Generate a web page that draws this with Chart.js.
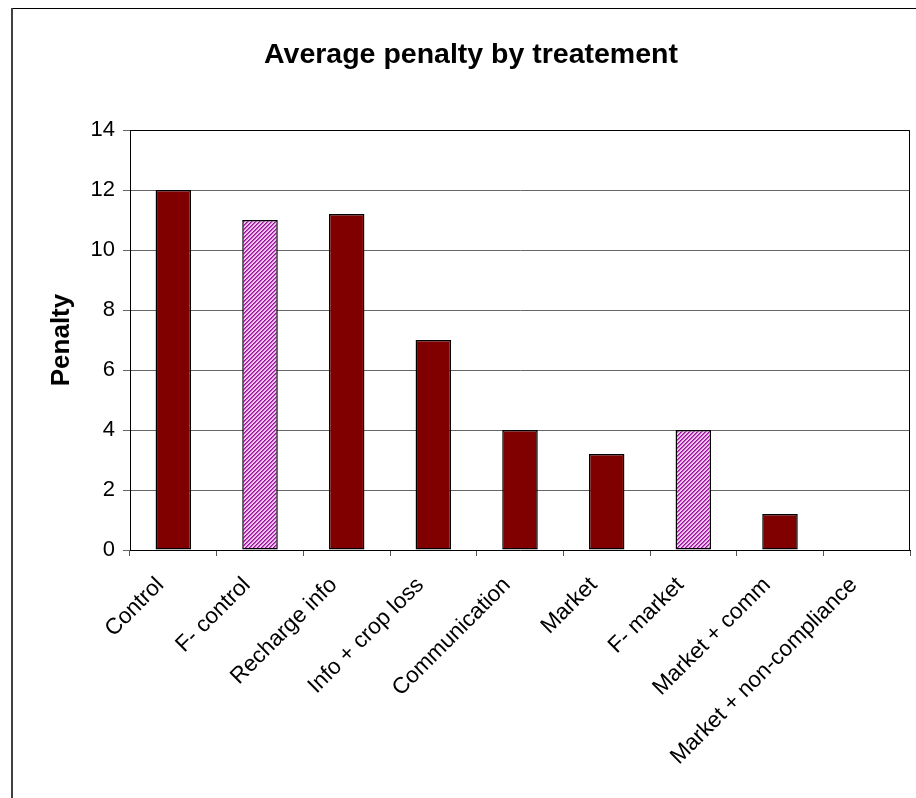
<!DOCTYPE html>
<html>
<head>
<meta charset="utf-8">
<script src="https://cdn.jsdelivr.net/npm/chart.js@4/dist/chart.umd.min.js"></script>
<style>
  html, body { margin: 0; padding: 0; background: #fff; }
  #wrap { width: 916px; height: 798px; }
</style>
</head>
<body>
<div id="wrap"><canvas id="c" width="916" height="798"></canvas></div>
<script>
// Treatments and their average penalty
const categories = [
  'Control', 'F- control', 'Recharge info', 'Info + crop loss',
  'Communication', 'Market', 'F- market', 'Market + comm', 'Market + non-compliance'
];
const penalty = [12, 11, 11.2, 7, 4, 3.2, 4, 1.2, 0];
// Treatments shown with a hatched fill
const hatchedCategories = ['F- control', 'F- market'];
const yTicks = [0, 2, 4, 6, 8, 10, 12, 14];

const FONT = 'Arial, "Liberation Sans", sans-serif';

function makeHatch() {
  const t = document.createElement('canvas');
  t.width = 4; t.height = 4;
  const g = t.getContext('2d');
  g.fillStyle = '#f0c4f0';
  g.fillRect(0, 0, 4, 4);
  for (let y = 0; y < 4; y++) {
    for (let x = 0; x < 4; x++) {
      const k = (x + y) % 4;
      if (k === 0) { g.fillStyle = '#901890'; g.fillRect(x, y, 1, 1); }
      if (k === 1) { g.fillStyle = '#c848c8'; g.fillRect(x, y, 1, 1); }
    }
  }
  return document.getElementById('c').getContext('2d').createPattern(t, 'repeat');
}
const hatch = makeHatch();
const fills = categories.map(c => hatchedCategories.includes(c) ? hatch : '#800000');

// White background and the outer chart frame
const framePlugin = {
  id: 'frame',
  beforeDraw(chart) {
    const ctx = chart.ctx;
    ctx.save();
    ctx.fillStyle = '#fff';
    ctx.fillRect(0, 0, chart.width, chart.height);
    ctx.restore();
  },
  afterDraw(chart) {
    const ctx = chart.ctx;
    ctx.save();
    ctx.fillStyle = '#000';
    ctx.fillRect(11, 8, chart.width - 11, 1);
    ctx.fillStyle = '#404040';
    ctx.fillRect(11, 8, 2, chart.height - 8);
    // plot area outline on top and right
    const a = chart.chartArea;
    ctx.strokeStyle = '#000';
    ctx.lineWidth = 1;
    ctx.beginPath();
    ctx.moveTo(Math.round(a.left) + 0.5, Math.round(a.top) + 0.5);
    ctx.lineTo(Math.round(a.right) - 0.5, Math.round(a.top) + 0.5);
    ctx.lineTo(Math.round(a.right) - 0.5, Math.round(a.bottom) + 0.5);
    ctx.stroke();
    ctx.restore();
  }
};

new Chart(document.getElementById('c'), {
  type: 'bar',
  data: {
    labels: categories,
    datasets: [{
      data: penalty,
      backgroundColor: fills,
      borderColor: '#000',
      borderWidth: 1.5,
      borderSkipped: false,
      categoryPercentage: 1,
      barPercentage: 0.41
    }]
  },
  options: {
    responsive: false,
    animation: false,
    events: [],
    layout: { padding: { left: 32, right: 6, top: 0, bottom: 0 } },
    plugins: {
      legend: { display: false },
      tooltip: { enabled: false },
      title: {
        display: true,
        text: 'Average penalty by treatement',
        color: '#000',
        font: { family: FONT, size: 28.5, weight: 'bold', lineHeight: 1.2 },
        padding: { top: 38, bottom: 57.8 }
      }
    },
    scales: {
      x: {
        offset: true,
        grid: {
          offset: true,
          drawOnChartArea: false,
          drawTicks: true,
          tickLength: 6,
          color: '#555'
        },
        border: { color: '#000', width: 1 },
        ticks: {
          autoSkip: false,
          minRotation: 45,
          maxRotation: 45,
          padding: 16,
          labelOffset: -13,
          color: '#000',
          font: { family: FONT, size: 22.5 }
        },
        afterFit(scale) { scale.height = 248; }
      },
      y: {
        min: 0,
        max: 14,
        afterBuildTicks(scale) { scale.ticks = yTicks.map(v => ({ value: v })); },
        grid: {
          color: '#666',
          lineWidth: 1,
          tickLength: 7,
          tickColor: '#666'
        },
        border: { color: '#000', width: 1 },
        ticks: {
          padding: 8,
          color: '#000',
          font: { family: FONT, size: 22 }
        },
        title: {
          display: true,
          text: 'Penalty',
          color: '#000',
          font: { family: FONT, size: 26, weight: 'bold', lineHeight: 1.2 },
          padding: { top: 14.4, bottom: 0 }
        },
        afterFit(scale) { scale.width = 98; }
      }
    }
  },
  plugins: [framePlugin]
});
</script>
</body>
</html>
